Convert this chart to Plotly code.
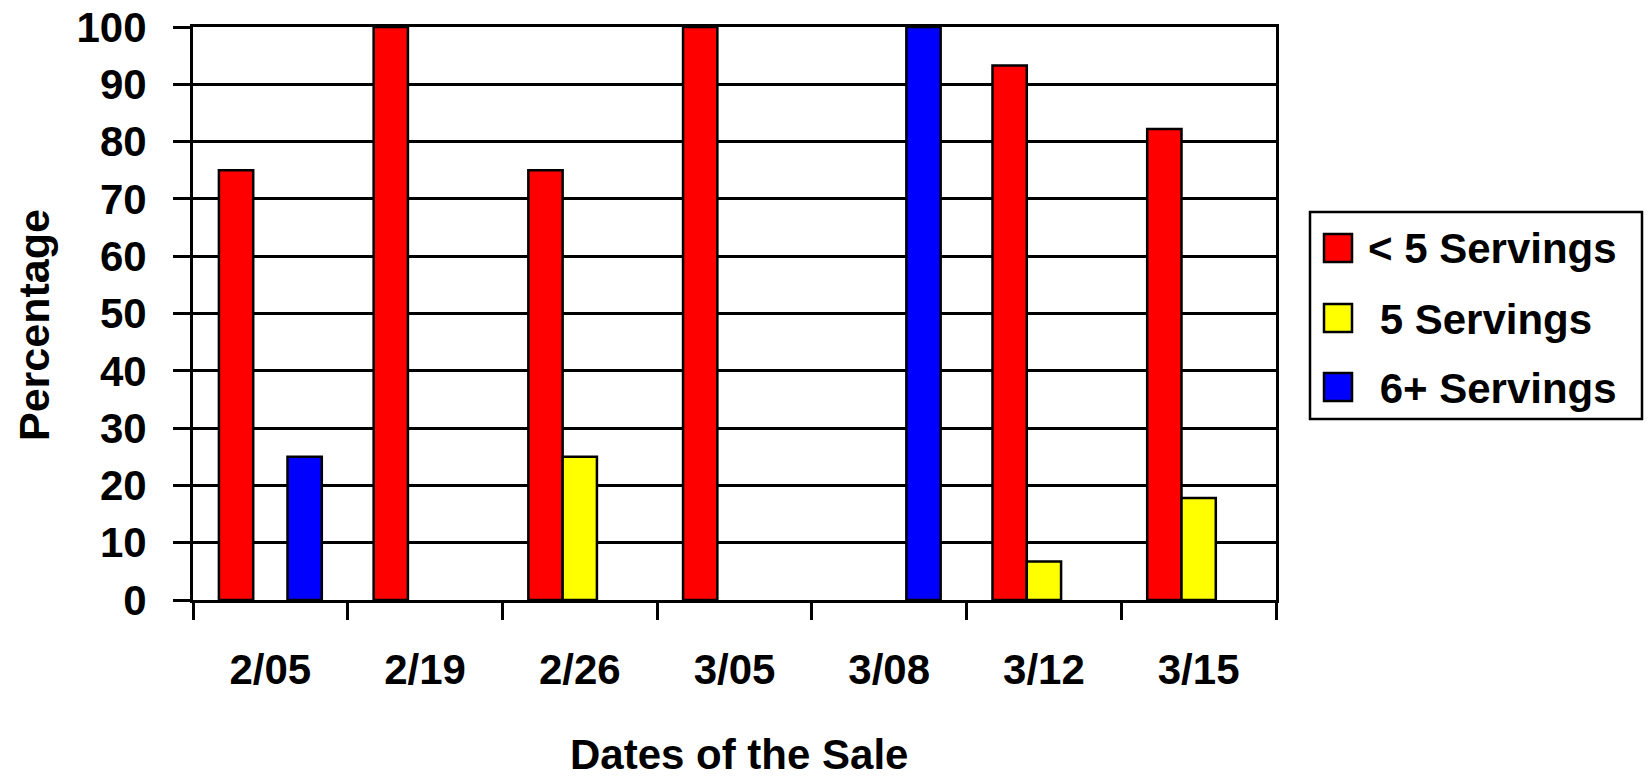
import plotly.graph_objects as go

# Sale dates (categories)
dates = ["2/05", "2/19", "2/26", "3/05", "3/08", "3/12", "3/15"]

# Percentage of buyers by servings eaten per day
less_than_5 = [75, 100, 75, 100, 0, 93.3, 82.2]
five = [0, 0, 25, 0, 0, 6.7, 17.8]
six_plus = [25, 0, 0, 0, 100, 0, 0]

series_names = ["< 5 Servings", "\u00a05 Servings", "\u00a06+ Servings"]
series_values = [less_than_5, five, six_plus]
series_colors = ["#FF0000", "#FFFF00", "#0000FF"]

y_ticks = list(range(0, 101, 10))

W, H = 1648, 777
ML, MR, MT, MB = 193, 372, 27, 177
PW, PH = W - ML - MR, H - MT - MB

FONT = "Liberation Sans, Arial, sans-serif"


def fx(px):
    """pixel x -> paper x"""
    return (px - ML) / PW


def fy(py):
    """pixel y -> paper y"""
    return (H - MB - py) / PH


fig = go.Figure()
for name, vals, col in zip(series_names, series_values, series_colors):
    # zero shares get no bar at all
    fig.add_trace(go.Bar(
        x=dates, y=[v if v else None for v in vals], name=name,
        marker=dict(color=col, line=dict(color="black", width=2.5)),
        showlegend=False,
    ))

# Legend box drawn with shapes and text
shapes = [dict(type="rect", xref="paper", yref="paper",
               x0=fx(1310), x1=fx(1642), y0=fy(419), y1=fy(212),
               line=dict(color="black", width=2.5), fillcolor="white", layer="above")]
annotations = []
row_centers = [248, 318, 387]
for name, col, cy in zip(series_names, series_colors, row_centers):
    shapes.append(dict(type="rect", xref="paper", yref="paper",
                       x0=fx(1324), x1=fx(1352), y0=fy(cy + 14), y1=fy(cy - 14),
                       line=dict(color="black", width=2.5), fillcolor=col, layer="above"))
    annotations.append(dict(text=name, xref="paper", yref="paper",
                            x=fx(1366), y=fy(cy + 1), xanchor="left", yanchor="middle",
                            showarrow=False,
                            font=dict(family=FONT, size=42, color="black", weight="bold")))

# Axis titles
annotations.append(dict(text="Percentage", xref="paper", yref="paper",
                        x=fx(34), y=fy(325), textangle=-90,
                        xanchor="center", yanchor="middle", showarrow=False,
                        font=dict(family=FONT, size=43, color="black", weight="bold")))
annotations.append(dict(text="Dates of the Sale", xref="paper", yref="paper",
                        x=fx(739), y=fy(754), xanchor="center", yanchor="middle",
                        showarrow=False,
                        font=dict(family=FONT, size=42, color="black", weight="bold")))

fig.update_layout(
    width=W, height=H,
    margin=dict(l=ML, r=MR, t=MT, b=MB, pad=0, autoexpand=False),
    paper_bgcolor="white", plot_bgcolor="white",
    barmode="group", bargap=0.335, bargroupgap=0,
    shapes=shapes, annotations=annotations,
    showlegend=False,
)
fig.update_xaxes(
    type="category", showgrid=False, zeroline=False, automargin=False,
    showline=True, linecolor="black", linewidth=3, mirror=True,
    ticks="outside", tickson="boundaries", ticklen=17, tickwidth=3, tickcolor="black",
    ticklabelstandoff=31,
    tickfont=dict(family=FONT, size=42, color="black", weight="bold"),
)
fig.update_yaxes(
    range=[0, 100], tickvals=y_ticks, showgrid=True, gridcolor="black", gridwidth=2.5,
    zeroline=False, showline=True, linecolor="black", linewidth=3, mirror=True,
    automargin=False,
    ticks="outside", ticklen=17, tickwidth=3, tickcolor="black",
    ticklabelstandoff=18,
    tickfont=dict(family=FONT, size=42, color="black", weight="bold"),
)

fig.write_html("out.html")
